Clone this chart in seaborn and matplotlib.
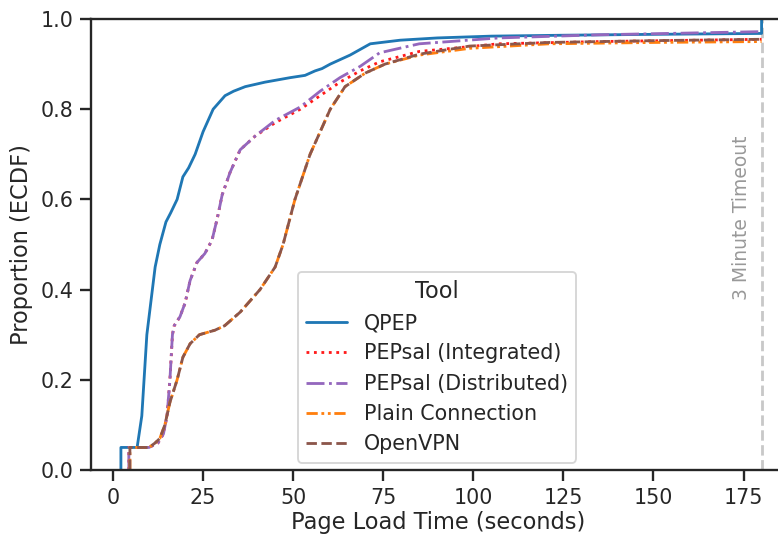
import matplotlib
matplotlib.use("Agg")
import matplotlib.pyplot as plt
import seaborn as sns
import pandas as pd

# ECDF knots (page load time in s, proportion)
qpep_t = [2.2, 2.2, 6.7, 8.0, 9.4, 11.7, 13.0, 14.7, 16.0, 17.8, 19.4, 21.0, 22.8, 25.0, 27.8,
          31.1, 33.5, 36.7, 42.2, 49.2, 53.3, 56.1, 58.0, 60.3, 65.8, 71.4, 79.7, 90, 105, 125,
          150, 180, 180]
qpep_p = [0.0, 0.05, 0.05, 0.12, 0.30, 0.45, 0.50, 0.55, 0.57, 0.60, 0.65, 0.67, 0.70, 0.75, 0.80,
          0.83, 0.84, 0.85, 0.86, 0.87, 0.875, 0.885, 0.89, 0.90, 0.92, 0.945, 0.953, 0.958, 0.962, 0.964,
          0.966, 0.968, 1.0]

int_t = [4.4, 4.4, 10, 12.5, 14, 15, 15.8, 16.5, 17.0, 18.6, 20, 21.4, 23.3, 25.5, 27.5, 29,
         30.3, 32.5, 35.3, 39.4, 45, 52, 57.5, 63, 68.6, 74, 85, 107, 135, 180]
int_p = [0.0, 0.05, 0.05, 0.06, 0.08, 0.12, 0.20, 0.30, 0.32, 0.34, 0.37, 0.42, 0.46, 0.48, 0.51, 0.56,
         0.61, 0.66, 0.71, 0.74, 0.77, 0.80, 0.83, 0.86, 0.885, 0.905, 0.928, 0.945, 0.950, 0.955]

dist_t = [4.4, 4.4, 10, 12.5, 14, 15, 15.8, 16.5, 17.0, 18.6, 20, 21.4, 23.3, 25.5, 27.5, 29,
          30.3, 32.5, 35.3, 39.4, 45, 52, 57.5, 63, 68.6, 74, 85, 107, 135, 180]
dist_p = [0.0, 0.05, 0.05, 0.06, 0.08, 0.12, 0.20, 0.30, 0.32, 0.34, 0.37, 0.42, 0.46, 0.48, 0.51, 0.56,
          0.61, 0.66, 0.71, 0.74, 0.775, 0.805, 0.84, 0.87, 0.895, 0.925, 0.945, 0.958, 0.965, 0.972]

plain_t = [4.7, 4.7, 10, 11.7, 13, 14.4, 15.8, 17.8, 19.4, 21.4, 24, 28.3, 31, 35.3, 40.8, 45,
           47.2, 50.5, 54.7, 60.3, 64.4, 70, 75.5, 85, 99, 121, 150, 180]
plain_p = [0.0, 0.05, 0.05, 0.06, 0.07, 0.10, 0.15, 0.20, 0.25, 0.28, 0.30, 0.31, 0.32, 0.35, 0.40, 0.45,
           0.50, 0.60, 0.70, 0.80, 0.85, 0.88, 0.90, 0.92, 0.935, 0.945, 0.948, 0.950]

vpn_t = [4.7, 4.7, 10, 11.7, 13, 14.4, 15.8, 17.8, 19.4, 21.4, 24, 28.3, 31, 35.3, 40.8, 45,
         47.2, 50.5, 54.7, 60.3, 64.4, 70, 75.5, 85, 99, 121, 150, 180]
vpn_p = [0.0, 0.05, 0.05, 0.06, 0.07, 0.10, 0.15, 0.20, 0.25, 0.28, 0.30, 0.31, 0.32, 0.35, 0.40, 0.45,
         0.50, 0.60, 0.70, 0.80, 0.85, 0.88, 0.90, 0.922, 0.94, 0.948, 0.952, 0.955]

tools = ["QPEP", "PEPsal (Integrated)", "PEPsal (Distributed)", "Plain Connection", "OpenVPN"]
series = [(qpep_t, qpep_p), (int_t, int_p), (dist_t, dist_p), (plain_t, plain_p), (vpn_t, vpn_p)]

frames = []
for name, (t, p) in zip(tools, series):
    frames.append(pd.DataFrame({"t": t, "p": p, "Tool": name}))
df = pd.concat(frames, ignore_index=True)

palette = {
    "QPEP": "#1f77b4",
    "PEPsal (Integrated)": "#ff1a1a",
    "PEPsal (Distributed)": "#9467bd",
    "Plain Connection": "#ff7f0e",
    "OpenVPN": "#8c564b",
}
dashes = {
    "QPEP": "",
    "PEPsal (Integrated)": (1, 1.65),
    "PEPsal (Distributed)": (6.4, 1.6, 1, 1.6),
    "Plain Connection": (4, 1.3, 1, 1.3, 1, 1.3),
    "OpenVPN": (3.7, 1.6),
}

sns.set_theme(style="ticks", context="notebook")
dpi = 135
fig = plt.figure(figsize=(778 / dpi, 535 / dpi), dpi=dpi)
# axes frame: left 91px, top 19px, bottom 470px, right edge runs off the figure
ax = fig.add_axes([91 / 778, 65 / 535, (785 - 91) / 778, 451 / 535])

sns.lineplot(data=df, x="t", y="p", hue="Tool", style="Tool", hue_order=tools,
             style_order=tools, palette=palette, dashes=dashes, estimator=None,
             sort=False, units="Tool", ax=ax)

ax.axvline(180, color="#c8c8c8", ls="--", lw=1.5, zorder=0)
ax.text(174.5, 0.56, "3 Minute Timeout", rotation=90, color="#999999",
        ha="center", va="center", fontsize=10)

ax.set_xlim(-6.1, 186.5)
ax.set_ylim(0, 1)
ax.set_xticks([0, 25, 50, 75, 100, 125, 150, 175])
ax.set_yticks([0.0, 0.2, 0.4, 0.6, 0.8, 1.0])
ax.set_xlabel("Page Load Time (seconds)", labelpad=1.5)
ax.set_ylabel("Proportion (ECDF)")

ax.legend(title="Tool", loc="upper left", bbox_to_anchor=(0.298, 0.44),
          borderaxespad=0)

fig.savefig("out.png", dpi=dpi)
